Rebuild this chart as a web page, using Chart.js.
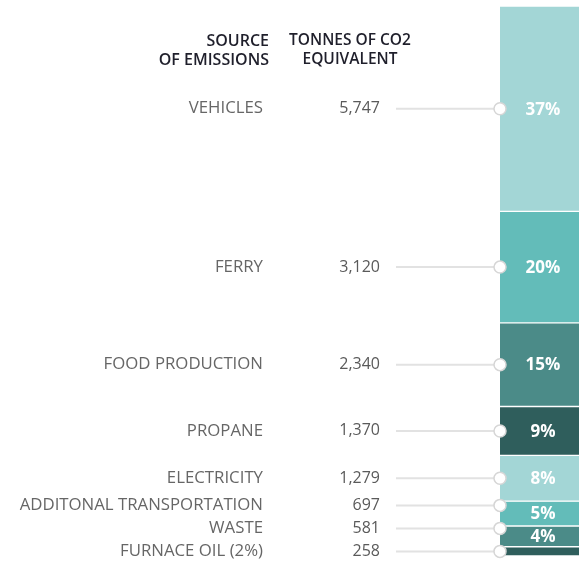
<!DOCTYPE html>
<html>
<head>
<meta charset="utf-8">
<script src="https://cdn.jsdelivr.net/npm/chart.js@4/dist/chart.umd.min.js"></script>
<style>
  html, body { margin: 0; padding: 0; background: #fff; overflow: hidden; }
  #wrap { width: 579px; height: 561px; overflow: hidden; }
</style>
</head>
<body>
<div id="wrap"><canvas id="c" width="586" height="561"></canvas></div>
<script>
// Emission sources, top to bottom
const categories = ['VEHICLES', 'FERRY', 'FOOD PRODUCTION', 'PROPANE', 'ELECTRICITY',
  'ADDITONAL TRANSPORTATION', 'WASTE', 'FURNACE OIL (2%)'];
// Tonnes of CO2 equivalent per source
const tonnes = [5747, 3120, 2340, 1370, 1279, 697, 581, 258];
// Column headers
const sourceHeader = ['SOURCE', 'OF EMISSIONS'];
const tonnesHeader = ['TONNES OF CO2', 'EQUIVALENT'];

const segmentColors = ['#a3d6d6', '#63bcb9', '#4b8b88', '#2f5e5c',
  '#a3d6d6', '#63bcb9', '#4b8b88', '#2f5e5c'];

const total = tonnes.reduce((a, b) => a + b, 0);
const FONT = '"Open Sans", "Noto Sans", sans-serif';

const labelPlugin = {
  id: 'sideLabels',
  afterDatasetsDraw(chart) {
    const ctx = chart.ctx;
    const left = chart.chartArea.left;
    const right = chart.chartArea.right;
    const cx = (left + right) / 2;

    // headers
    ctx.save();
    ctx.fillStyle = '#1f1f2b';
    ctx.font = '600 16px ' + FONT;
    ctx.textBaseline = 'middle';
    ctx.textAlign = 'right';
    ctx.fillText(sourceHeader[0], 269, 41);
    ctx.fillText(sourceHeader[1], 269, 60);
    ctx.textAlign = 'center';
    ctx.font = '600 15.5px ' + FONT;
    ctx.fillText(tonnesHeader[0], 350, 41);
    ctx.fillText(tonnesHeader[1], 350, 60);
    ctx.restore();

    // segment centres from the bar elements
    const centres = chart.data.datasets.map((ds, i) => {
      const el = chart.getDatasetMeta(i).data[0];
      return { mid: (el.y + el.base) / 2, h: Math.abs(el.base - el.y) };
    });

    // keep side labels apart, working upward from the bottom
    const minGap = 23;
    const ys = centres.map(c => c.mid);
    for (let i = ys.length - 2; i >= 0; i--) {
      ys[i] = Math.min(ys[i], ys[i + 1] - minGap);
    }

    ctx.save();
    ctx.textBaseline = 'middle';
    chart.data.datasets.forEach((ds, i) => {
      const y = ys[i];
      // connector line + dot
      ctx.strokeStyle = '#e2e2e2';
      ctx.lineWidth = 2;
      ctx.beginPath();
      ctx.moveTo(396, y);
      ctx.lineTo(left, y);
      ctx.stroke();
      ctx.beginPath();
      ctx.arc(left, y, 6, 0, Math.PI * 2);
      ctx.fillStyle = '#ffffff';
      ctx.fill();
      ctx.strokeStyle = '#d6d6d6';
      ctx.lineWidth = 1.5;
      ctx.stroke();

      // category name and value
      ctx.fillStyle = '#666666';
      ctx.font = '500 16.8px ' + FONT;
      ctx.textAlign = 'right';
      ctx.fillText(ds.label, 263, y);
      ctx.fillStyle = '#5a5a5a';
      ctx.font = '500 16px ' + FONT;
      ctx.fillText(ds.data[0].toLocaleString('en-US'), 380, y);

      // percentage inside the segment
      if (centres[i].h > 15) {
        const pct = Math.round(ds.data[0] / total * 100) + '%';
        ctx.fillStyle = '#ffffff';
        ctx.font = 'bold 17px ' + FONT;
        ctx.textAlign = 'center';
        ctx.fillText(pct, cx, centres[i].mid + 1);
      }
    });
    ctx.restore();
  }
};

new Chart(document.getElementById('c'), {
  type: 'bar',
  data: {
    labels: [''],
    datasets: categories.map((name, i) => ({
      label: name,
      data: [tonnes[i]],
      backgroundColor: segmentColors[i],
      borderColor: '#ffffff',
      borderWidth: { top: 1, bottom: 1, left: 0, right: 0 },
      borderSkipped: false,
      barPercentage: 1,
      categoryPercentage: 1
    }))
  },
  options: {
    responsive: false,
    animation: false,
    layout: { padding: { left: 500, top: 6, bottom: 5, right: 0 } },
    scales: {
      x: { stacked: true, display: false },
      y: { stacked: true, display: false, reverse: true, min: 0, max: total }
    },
    plugins: { legend: { display: false }, tooltip: { enabled: false } }
  },
  plugins: [labelPlugin]
});
</script>
</body>
</html>
